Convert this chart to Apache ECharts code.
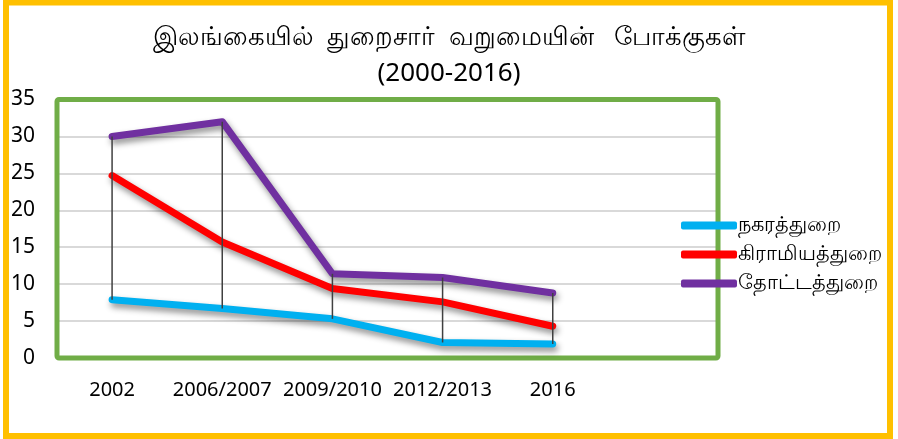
<!DOCTYPE html>
<html>
<head>
<meta charset="utf-8">
<script src="https://cdn.jsdelivr.net/npm/echarts@6/dist/echarts.min.js"></script>
<style>
  html, body { margin: 0; padding: 0; background: #fff; }
  #chart { width: 898px; height: 439px; }
</style>
</head>
<body>
<div id="chart"></div>
<script>
// வருடங்கள் (last slot is an empty category, like the original sheet)
const years = ['2002', '2006/2007', '2009/2010', '2012/2013', '2016', '']
const urban = [7.9, 6.7, 5.3, 2.1, 1.9]     // நகரத்துறை
const rural = [24.7, 15.7, 9.4, 7.6, 4.3]   // கிராமியத்துறை
const estate = [30.0, 32.0, 11.4, 10.9, 8.8] // தோட்டத்துறை
const seriesNames = ['நகரத்துறை', 'கிராமியத்துறை', 'தோட்டத்துறை']
const colors = ['#00B0F0', '#FF0000', '#7030A0']

const font = '"Noto Sans", "DejaVu Sans", sans-serif'

// high-low lines: min and max of the three sectors per year
const hiLow = urban.map((v, i) => [i, Math.min(v, rural[i], estate[i]), Math.max(v, rural[i], estate[i])])

const myChart = echarts.init(document.getElementById('chart'))

const lineSeries = [urban, rural, estate].map((d, idx) => ({
  name: seriesNames[idx],
  type: 'line',
  data: d,
  symbol: 'none',
  z: 3,
  lineStyle: {
    color: colors[idx],
    width: 7,
    cap: 'round',
    join: 'round',
    shadowColor: 'rgba(0,0,0,0.45)',
    shadowBlur: 6,
    shadowOffsetX: 2,
    shadowOffsetY: 4
  },
  itemStyle: { color: colors[idx] }
}))

const option = {
  animation: false,
  graphic: [
    {
      type: 'rect',
      shape: { x: 6, y: 2.5, width: 884, height: 433.5 },
      style: { fill: 'none', stroke: '#FFC000', lineWidth: 6 },
      z: 100
    },
    {
      // plot area frame drawn on top of the split lines
      type: 'rect',
      shape: { x: 57, y: 99.5, width: 661, height: 258.5, r: 2 },
      style: { fill: 'none', stroke: '#70AD47', lineWidth: 5 },
      z: 1
    }
  ],
  title: {
    text: 'இலங்கையில்  துறைசார்  வறுமையின்   போக்குகள்\n(2000-2016)',
    left: 'center',
    top: 15,
    textStyle: {
      fontSize: 26,
      fontWeight: 'normal',
      color: '#000',
      fontFamily: font,
      lineHeight: 36
    }
  },
  legend: {
    orient: 'vertical',
    left: 676,
    top: 210,
    itemGap: 8,
    itemWidth: 56,
    itemHeight: 8,
    icon: 'roundRect',
    data: seriesNames,
    textStyle: { fontSize: 21, color: '#000', fontFamily: font, padding: [0, 0, 0, -4] }
  },
  grid: {
    left: 57,
    right: 180,
    top: 99.5,
    bottom: 81,
    show: false
  },
  xAxis: {
    type: 'category',
    boundaryGap: true,
    data: years,
    axisLine: { show: true, lineStyle: { color: '#D9D9D9', width: 2 } },
    axisTick: { show: false },
    axisLabel: { margin: 22, fontSize: 20, color: '#000', fontFamily: font, interval: 0 }
  },
  yAxis: {
    type: 'value',
    min: 0,
    max: 35,
    interval: 5,
    axisLine: { show: false },
    axisTick: { show: false },
    splitLine: { lineStyle: { color: '#D9D9D9', width: 2 } },
    axisLabel: { margin: 22, fontSize: 21, color: '#000', fontFamily: font }
  },
  series: [
    {
      type: 'custom',
      z: 4,
      data: hiLow,
      renderItem: function (params, api) {
        const lo = api.coord([api.value(0), api.value(1)])
        const hi = api.coord([api.value(0), api.value(2)])
        return {
          type: 'line',
          shape: { x1: lo[0], y1: lo[1], x2: hi[0], y2: hi[1] },
          style: { stroke: '#404040', lineWidth: 1.5 }
        }
      }
    },
    ...lineSeries
  ]
}

myChart.setOption(option)
</script>
</body>
</html>
